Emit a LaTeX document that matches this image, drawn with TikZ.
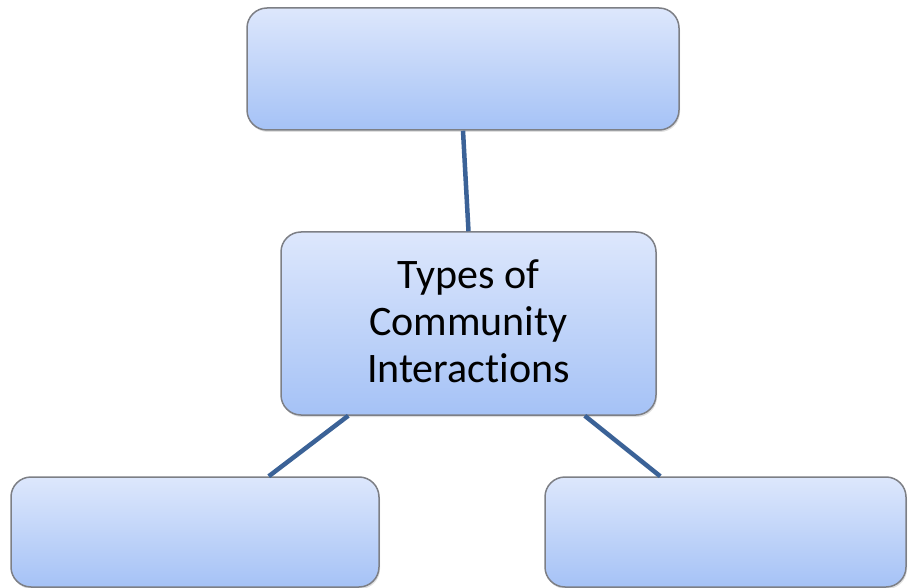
\documentclass[tikz,border=0pt]{standalone}
\usepackage{fontspec}
\setmainfont{Carlito}[Ligatures={NoCommon}]
\usetikzlibrary{shadows}

\definecolor{boxtop}{HTML}{DDE7FC}
\definecolor{boxbottom}{HTML}{A5C2F6}
\definecolor{boxline}{HTML}{7D7F85}
\definecolor{linkline}{HTML}{3B6297}

\tikzset{
  conceptbox/.style={draw=boxline, line width=1.5pt, rounded corners=20pt,
    top color=boxtop, bottom color=boxbottom, align=center,
    drop shadow={shadow xshift=1pt, shadow yshift=-2pt, opacity=0.25},
    font=\fontsize{42}{47}\selectfont, inner sep=0pt},
  link/.style={linkline, line width=4.5pt}
}

\begin{document}
\begin{tikzpicture}[x=1pt, y=-1pt]
            \useasboundingbox (0,0) rectangle (908,588);
            %boxes
            \node[conceptbox, minimum width=432pt, minimum height=122pt] (top) at (463,69) {};
            \node[conceptbox, minimum width=375pt, minimum height=183pt] (mid) at (468.5,323.5) {};
            \node (midtext) at (468.5,321) [align=center, font=\fontsize{42}{47}\selectfont, inner sep=0pt] {Types of\\Community\\Interactions};
            \node[conceptbox, minimum width=368pt, minimum height=110pt] (left) at (195,532) {};
            \node[conceptbox, minimum width=361pt, minimum height=110pt] (right) at (725.5,532) {};
            %links
            \draw[link] (top.south) -- (mid.north);
            \draw[link] ([xshift=68pt]mid.south west) -- ([xshift=-111pt]left.north east);
            \draw[link] ([xshift=-72pt]mid.south east) -- ([xshift=116pt]right.north west);
        \end{tikzpicture}
\end{document}
